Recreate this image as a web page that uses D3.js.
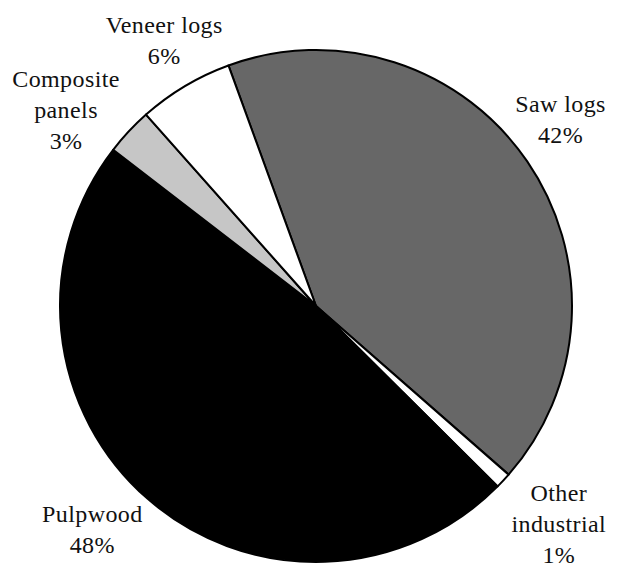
<!DOCTYPE html>
<html>
<head>
<meta charset="utf-8">
<script src="https://cdn.jsdelivr.net/npm/d3@7"></script>
<style>
  body { margin: 0; background: #fff; }
</style>
</head>
<body>
<script>
// industrial roundwood share pie

// data
var categories = ['Saw logs', 'Other industrial', 'Pulpwood', 'Composite panels', 'Veneer logs'],
    shares = [42, 1, 48, 3, 6],
    labelLines = [['Saw logs', '42%'], ['Other', 'industrial', '1%'], ['Pulpwood', '48%'],
                  ['Composite', 'panels', '3%'], ['Veneer logs', '6%']];

// layout
var width = 618, height = 570,
    cx = 316, cy = 306, radius = 256,
    startDeg = -20,
    lineGap = 31;

// label placement: polar angle (deg, clockwise from top) and distance from centre
var labelAngle = [53.8, 133, 224, -53, -30.5],
    labelRadius = [303, 332, 322, 313, 299];

var fills = ['#676767', '#fff', '#000', '#c6c6c6', '#fff'];

var svg = d3.select('body').append('svg')
  .attr('width', width)
  .attr('height', height);

var g = svg.append('g').attr('transform', 'translate(' + cx + ',' + cy + ')');

var pie = d3.pie().sort(null)
  .startAngle(startDeg * Math.PI / 180)
  .endAngle((startDeg + 360) * Math.PI / 180);

var arc = d3.arc().innerRadius(0).outerRadius(radius);

var data = categories.map(function(c, i){ return {name: c, value: shares[i], idx: i}; });
var arcs = pie.value(function(d){ return d.value; })(data);

g.selectAll('path.slice').data(arcs)
  .enter().append('path')
  .attr('class', 'slice')
  .attr('d', arc)
  .attr('fill', function(d){ return fills[d.data.idx]; })
  .attr('stroke', '#000')
  .attr('stroke-width', 2)
  .attr('stroke-linejoin', 'round');

// labels
var labels = g.selectAll('text.lbl').data(arcs)
  .enter().append('text')
  .attr('class', 'lbl')
  .attr('text-anchor', 'middle')
  .attr('font-family', "'Liberation Serif', 'Times New Roman', Times, serif")
  .attr('font-size', 24)
  .attr('letter-spacing', 0.4)
  .attr('fill', '#111');

labels.each(function(d){
  var i = d.data.idx,
      a = labelAngle[i] * Math.PI / 180,
      x = labelRadius[i] * Math.sin(a),
      y = -labelRadius[i] * Math.cos(a),
      lines = labelLines[i],
      n = lines.length;
  d3.select(this).selectAll('tspan').data(lines)
    .enter().append('tspan')
    .attr('x', x)
    .attr('y', function(l, k){ return y + (k - (n - 1) / 2) * lineGap; })
    .text(function(l){ return l; });
});
</script>
</body>
</html>
